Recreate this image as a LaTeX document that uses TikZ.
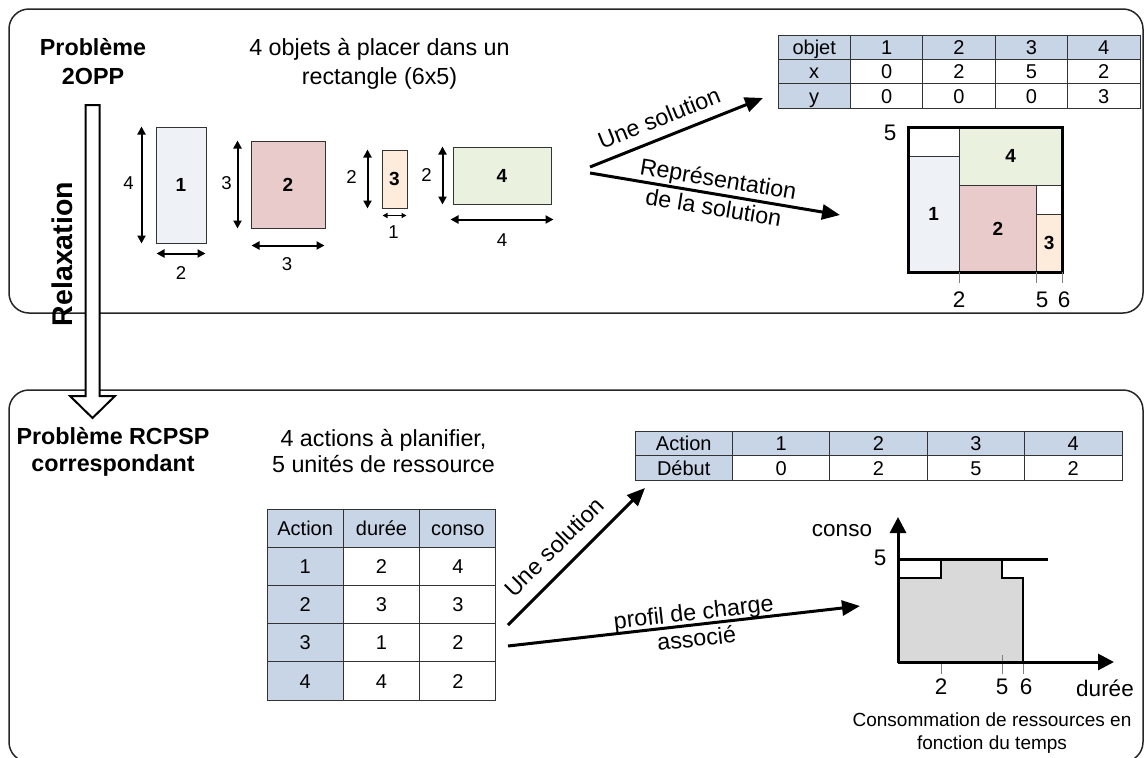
\documentclass[tikz,border=0pt]{standalone}
\usepackage{fontspec}
\setmainfont{Liberation Sans}
\usetikzlibrary{arrows.meta,calc}
\definecolor{hdr}{HTML}{C8D5E6}
\definecolor{pieceA}{HTML}{EEF2F7}
\definecolor{pieceB}{HTML}{EACBCB}
\definecolor{pieceC}{HTML}{FDEBDC}
\definecolor{pieceD}{HTML}{EBF1DF}
\definecolor{loadfill}{HTML}{D9D9D9}
\definecolor{rule}{HTML}{333333}
\begin{document}
\begin{tikzpicture}[x=1pt,y=-1pt,
  panel/.style={draw=black!85, line width=1.5pt, rounded corners=20pt},
  head/.style={font=\bfseries\fontsize{23.3}{29}\selectfont, align=center, inner sep=0pt},
  headb/.style={font=\bfseries\fontsize{23.3}{27.3}\selectfont, align=center, inner sep=0pt},
  note/.style={font=\fontsize{23.3}{29}\selectfont, align=center, inner sep=0pt},
  noteb/.style={font=\fontsize{23.3}{26.5}\selectfont, align=center, inner sep=0pt},
  dimlbl/.style={font=\fontsize{18.6}{22}\selectfont, inner sep=0pt},
  axlbl/.style={font=\fontsize{22.5}{26}\selectfont, inner sep=0pt},
  caption/.style={font=\fontsize{19}{23}\selectfont, align=center, inner sep=0pt},
  piece/.style={draw=rule, line width=1pt, inner sep=0pt, font=\bfseries\fontsize{19}{22}\selectfont},
  hole/.style={draw=rule, line width=1pt, fill=white, inner sep=0pt},
  cell/.style={draw=rule, line width=1pt, inner sep=0pt, text height=14.5pt, text depth=0pt,
    font=\fontsize{20}{24}\selectfont},
  dimarrow/.style={line width=2pt, {Triangle[length=8pt,width=8pt]}-{Triangle[length=8pt,width=8pt]}},
  smalldim/.style={line width=1.5pt, {Triangle[length=5pt,width=5pt]}-{Triangle[length=5pt,width=5pt]}},
  bigarrow/.style={line width=3pt, -{Triangle[length=18pt,width=15pt]}},
  axis/.style={line width=3pt, -{Triangle[length=16pt,width=16pt]}},
  tick/.style={draw=gray, line width=0.8pt}]

\fill[white] (0,0) rectangle (1144,758);
\useasboundingbox (0,0) rectangle (1144,758);
\clip (0,0) rectangle (1144,758);

% ---------- panels ----------
\draw[panel] (9,9) rectangle (1143,313);
\draw[panel] (9,390) rectangle (1143,762);

% ---------- 2OPP part ----------
\node[head] (p2opp) at (93,62) {Problème\\2OPP};
\node[note] (objets) at (379.5,64) {4 objets à placer dans un\\rectangle (6x5)};

\node[piece, fill=pieceA, minimum width=50pt, minimum height=116pt] (r1) at (181,185) {1};
\node[piece, fill=pieceB, minimum width=74pt, minimum height=87pt] (r2) at (288,184.5) {2};
\node[piece, fill=pieceC, minimum width=25pt, minimum height=58pt] (r3) at (394.5,179) {3};
\node[piece, fill=pieceD, minimum width=98pt, minimum height=57pt] (r4) at (502,175.5) {4};

% dimensions of the four objects
\draw[dimarrow] ($(r1.north west)+(-14,0)$) -- ($(r1.south west)+(-14,0)$);
\node[dimlbl] (r1h) at ($(r1.west)+(-27,-2)$) {4};
\draw[dimarrow] ($(r1.south west)+(1,10)$) -- ($(r1.south east)+(-1,10)$);
\node[dimlbl] (r1w) at ($(r1.south)+(0,30)$) {2};

\draw[dimarrow] ($(r2.north west)+(-13,0)$) -- ($(r2.south west)+(-13,0)$);
\node[dimlbl] (r2h) at ($(r2.west)+(-24,-1.5)$) {3};
\draw[dimarrow] ($(r2.south west)+(1,17)$) -- ($(r2.south east)+(-1,17)$);
\node[dimlbl] (r2w) at ($(r2.south)+(-1,36)$) {3};

\draw[dimarrow] ($(r3.north west)+(-14,0)$) -- ($(r3.south west)+(-14,0)$);
\node[dimlbl] (r3h) at ($(r3.west)+(-30,-2)$) {2};
\draw[smalldim] ($(r3.south west)+(1,7)$) -- ($(r3.south east)+(-1,7)$);
\node[dimlbl] (r3w) at ($(r3.south)+(-1,24)$) {1};

\draw[dimarrow] ($(r4.north west)+(-10,0)$) -- ($(r4.south west)+(-10,0)$);
\node[dimlbl] (r4h) at ($(r4.west)+(-26,0)$) {2};
\draw[dimarrow] ($(r4.south west)+(-2,15)$) -- ($(r4.south east)+(2,15)$);
\node[dimlbl] (r4w) at ($(r4.south)+(0,36)$) {4};

% arrows towards the solution
\coordinate (sa0) at (590,167);
\coordinate (sb0) at (590,173);
\coordinate (sa1) at (763,98);
\coordinate (sb1) at (840,215);
\draw[bigarrow] (sa0) -- (sa1);
\draw[bigarrow] (sb0) -- (sb1);
\node[note, rotate=22] (lsolA) at (659,118) {Une solution};
\node[note, rotate=-9.5] (lrep) at (716,193) {Représentation\\de la solution};

% solution table (x, y)
\foreach \i/\row in {0/{objet,1,2,3,4},1/{x,0,2,5,2},2/{y,0,0,0,3}} {
  \foreach \t [count=\j from 0] in \row {
    \ifnum\numexpr\i*\j\relax=0 \def\cf{hdr}\else\def\cf{white}\fi
    \node[cell, fill=\cf, minimum width=72.4pt, minimum height=24.4pt]
      (ta-\i-\j) at ({778+72.4*(\j+0.5)},{35+24.4*(\i+0.5)}) {\t};
  }
}

% packing of the solution (unit: 25.67 x 29)
\node[piece, fill=pieceA, minimum width=51.33pt, minimum height=116pt] (q1) at (933.67,214) {1};
\node[piece, fill=pieceD, minimum width=102.67pt, minimum height=58pt] (q4) at (1010.67,156) {4};
\node[piece, fill=pieceB, minimum width=77pt, minimum height=87pt] (q2) at (997.83,228.5) {2};
\node[piece, fill=pieceC, minimum width=25.67pt, minimum height=58pt] (q3) at (1049.17,243) {3};
\node[hole, minimum width=51.33pt, minimum height=29pt] (e1) at (933.67,141.5) {};
\node[hole, minimum width=25.67pt, minimum height=29pt] (e2) at (1049.17,199.5) {};
\draw[line width=3pt] (908,127) rectangle (1062,272);
\draw[tick] (959.33,272) -- (959.33,283);
\draw[tick] (1036.33,272) -- (1036.33,283);
\draw[tick] (1062,272) -- (1062,283);
\node[axlbl] (py5) at (890,133) {5};
\node[axlbl] (px2) at (959,300) {2};
\node[axlbl] (px5) at (1042,300) {5};
\node[axlbl] (px6) at (1064,300) {6};

% ---------- RCPSP part ----------
\node[headb] (rcpsp) at (113,452) {Problème RCPSP\\correspondant};
\node[noteb] (actions) at (383.5,451) {4 actions à planifier,\\5 unités de ressource};

% data table
\foreach \i/\row in {0/{Action,durée,conso},1/{1,2,4},2/{2,3,3},3/{3,1,2},4/{4,4,2}} {
  \foreach \t [count=\j from 0] in \row {
    \ifnum\numexpr\i*\j\relax=0 \def\cf{hdr}\else\def\cf{white}\fi
    \node[cell, fill=\cf, minimum width=76.33pt, minimum height=38.2pt]
      (tb-\i-\j) at ({267+76.33*(\j+0.5)},{509+38.2*(\i+0.5)}) {\t};
  }
}

% start times table
\foreach \i/\row in {0/{Action,1,2,3,4},1/{Début,0,2,5,2}} {
  \foreach \t [count=\j from 0] in \row {
    \ifnum\numexpr\i*\j\relax=0 \def\cf{hdr}\else\def\cf{white}\fi
    \node[cell, fill=\cf, minimum width=97.4pt, minimum height=24.5pt]
      (tc-\i-\j) at ({635+97.4*(\j+0.5)},{431+24.5*(\i+0.5)}) {\t};
  }
}

\coordinate (ua0) at (508,625);
\coordinate (ua1) at (645,488);
\coordinate (ub0) at (508,646);
\coordinate (ub1) at (860,606);
\draw[bigarrow] (ua0) -- (ua1);
\draw[bigarrow] (ub0) -- (ub1);
\node[note, rotate=45] (lsolB) at (554,547) {Une solution};
\node[noteb, rotate=6.5] (lprof) at (695,625) {profil de charge\\associé};

% load profile
\coordinate (O) at (898,662);
\coordinate (ytop) at (898,517);
\coordinate (xend) at (1114,662);
\filldraw[fill=loadfill, draw=black, line width=2.5pt, line join=miter]
  (898,662) -- (898,578) -- (941,578) -- (941,559) -- (1002,559) -- (1002,578)
  -- (1023,578) -- (1023,662) -- cycle;
\draw[line width=3pt] (898,559) -- (1048,559);
\draw[tick] (941,662) -- (941,674);
\draw[tick] (1002,655) -- (1002,674);
\draw[tick] (1023,662) -- (1023,674);
\draw[axis] (O) -- (ytop);
\draw[axis] (O) -- (xend);
\node[axlbl] (lconso) at (842,531) {conso};
\node[axlbl] (l5) at (880,558) {5};
\node[axlbl] (l2) at (941,687) {2};
\node[axlbl] (l5b) at (1002,687) {5};
\node[axlbl] (l6) at (1026,687) {6};
\node[axlbl] (ldur) at (1105,688) {durée};
\node[caption] (cap) at (992,733.5) {Consommation de ressources en\\fonction du temps};

% ---------- relaxation block arrow ----------
\filldraw[fill=white, draw=black, line width=2pt, line join=miter]
  (85.5,105) -- (99.5,105) -- (99.5,396) -- (115,396) -- (92.5,418)
  -- (70,396) -- (85.5,396) -- cycle;
\node[rotate=90, inner sep=0pt, font=\bfseries\fontsize{28.5}{32}\selectfont] (relax) at (62,254) {Relaxation};

\end{tikzpicture}
\end{document}
